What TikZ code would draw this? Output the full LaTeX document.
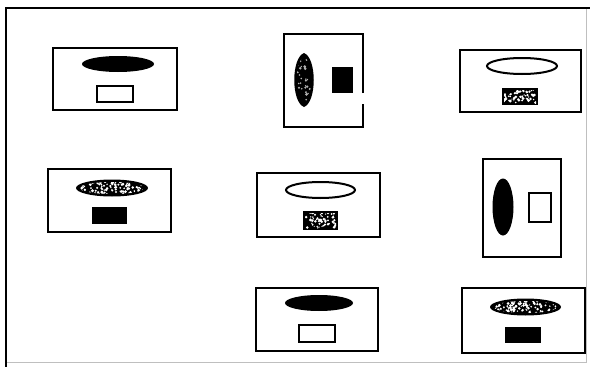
\documentclass[tikz,border=0pt]{standalone}
\begin{document}
\begin{tikzpicture}[x=1pt,y=-1pt,
  card/.style={draw=black,line width=2.6pt},
  inner/.style={draw=black,line width=2pt,fill=white},
  solid/.style={fill=black},
  framefaint/.style={draw=black!25,line width=1pt}]
\newcommand\speckle[6]{%
  \foreach \k in {1,...,#5}{%
    \pgfmathsetmacro\spx{#1+(rnd-0.5)*#3}%
    \pgfmathsetmacro\spy{#2+(rnd-0.5)*#4}%
    \pgfmathsetmacro\spr{0.6+1.0*rnd}%
    \fill[#6] (\spx,\spy) circle[radius=\spr pt];
  }}
\pgfmathsetseed{11}
\useasboundingbox (0,0) rectangle (590,367);
\fill[white] (0,0) rectangle (590,367);
% outer frame
\draw[framefaint] (586,8) -- (586,362) -- (6,362);
\draw[line width=2.6pt] (6,367) -- (6,8) -- (590,8);

% box 1
\draw[card] (53,48) rectangle (177,110);
\fill[solid] (118,64) ellipse[x radius=36pt,y radius=8pt];
\draw[inner] (97,86) rectangle (133,102);

% box 2 (portrait, gap in right side)
\draw[card] (363,93) -- (363,34) -- (284,34) -- (284,127) -- (363,127) -- (363,104);
\fill[solid] (304,53) .. controls (317,58) and (317,102) .. (304,107)
  .. controls (291,102) and (291,58) .. (304,53);
\begin{scope}
  \clip (304,57) .. controls (314,62) and (314,98) .. (304,103)
    .. controls (294,98) and (294,62) .. (304,57);
  \speckle{304}{80}{14}{44}{30}{white!70!black}
\end{scope}
\fill[solid] (332,67) rectangle (353,93);

% box 3
\draw[card] (460,50) rectangle (581,112);
\draw[inner] (522,66) ellipse[x radius=35pt,y radius=8pt];
\fill[solid] (502,88) rectangle (538,105);
\begin{scope}
  \clip (504,90) rectangle (536,103);
  \speckle{520}{96.5}{32}{13}{55}{white}
\end{scope}

% box 4
\draw[card] (48,169) rectangle (171,232);
\fill[solid] (112,188) ellipse[x radius=36pt,y radius=8.5pt];
\begin{scope}
  \clip (112,188) ellipse[x radius=32pt,y radius=6pt];
  \speckle{112}{188}{62}{12}{110}{white}
\end{scope}
\fill[solid] (92,207) rectangle (127,224);

% box 5
\draw[card] (257,173) rectangle (380,237);
\draw[inner] (320.5,190) ellipse[x radius=34.5pt,y radius=8pt];
\fill[solid] (303,211) rectangle (338,230);
\begin{scope}
  \clip (305,213) rectangle (336,228);
  \speckle{320.5}{220.5}{31}{15}{55}{white}
\end{scope}

% box 6 (portrait)
\draw[card] (483,159) rectangle (561,257);
\fill[solid] (503,207) ellipse[x radius=10.5pt,y radius=28.5pt];
\draw[inner] (529,193) rectangle (551,222);

% box 7
\draw[card] (256,288) rectangle (378,351);
\fill[solid] (319,303) ellipse[x radius=34pt,y radius=8pt];
\draw[inner] (299,325) rectangle (335,342);

% box 8
\draw[card] (462,288) rectangle (585,353);
\fill[solid] (525.5,307) ellipse[x radius=35.5pt,y radius=8.5pt];
\begin{scope}
  \clip (525.5,307) ellipse[x radius=31.5pt,y radius=6pt];
  \speckle{525.5}{307}{62}{12}{110}{white}
\end{scope}
\fill[solid] (505,327) rectangle (541,343);
\end{tikzpicture}
\end{document}
